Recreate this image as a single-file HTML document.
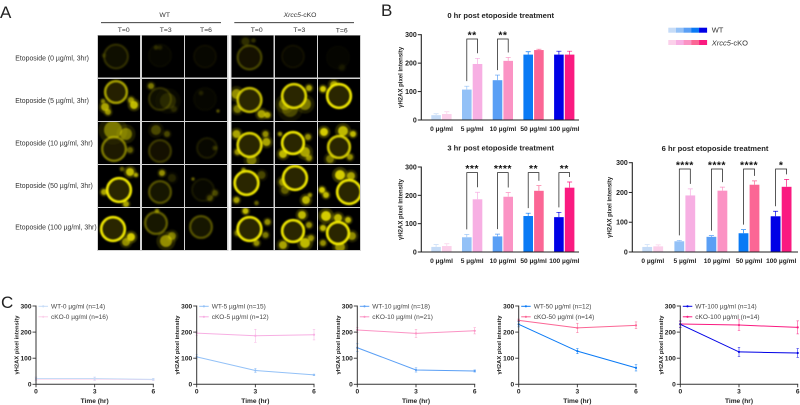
<!DOCTYPE html>
<html>
<head>
<meta charset="utf-8">
<title>Etoposide γH2AX figure</title>
<style>
html,body{margin:0;padding:0;background:#fff;width:800px;height:405px;overflow:hidden}
svg{display:block;filter:blur(.35px)}
text{font-family:"Liberation Sans",sans-serif}
</style>
</head>
<body>
<svg id="fig" xmlns="http://www.w3.org/2000/svg" width="800" height="405" viewBox="0 0 800 405">
  <defs>
    <filter id="soft" x="-20%" y="-20%" width="140%" height="140%"><feGaussianBlur stdDeviation="0.9"/></filter>
  </defs>
  <text x="0" y="18" font-size="17" fill="#222">A</text>
  <text x="381" y="16" font-size="17" fill="#222">B</text>
  <text x="1" y="308" font-size="17" fill="#222">C</text>

  <g font-size="6.8" fill="#333" text-anchor="middle">
    <text x="164.7" y="17">WT</text>
    <text x="300" y="17"><tspan font-style="italic">Xrcc5</tspan>-cKO</text>
    <line x1="101" x2="221" y1="22.7" y2="22.7" stroke="#222" stroke-width=".9"/>
    <line x1="234.3" x2="354" y1="22.7" y2="22.7" stroke="#222" stroke-width=".9"/>
    <text x="123.7" y="31.8">T=0</text>
    <text x="165.7" y="31.8">T=3</text>
    <text x="206" y="31.8">T=6</text>
    <text x="256.7" y="31.8">T=0</text>
    <text x="299.3" y="31.8">T=3</text>
    <text x="341.7" y="32.3">T=6</text>
  </g>
  <g font-size="6.9" fill="#333">
    <text x="15.3" y="60.5">Etoposide (0 µg/ml, 3hr)</text>
    <text x="15.3" y="103">Etoposide (5 µg/ml, 3hr)</text>
    <text x="15.3" y="145.5">Etoposide (10 µg/ml, 3hr)</text>
    <text x="15.3" y="188">Etoposide (50 µg/ml, 3hr)</text>
    <text x="15.3" y="229.7">Etoposide (100 µg/ml, 3hr)</text>
  </g>
  <g id="micrographs"></g>
  <g id="bars"></g>
  <g id="lines"></g>

  <g id="barLegend"></g>
  <text x="711.7" y="32.5" font-size="7.5" fill="#333">WT</text>
  <text x="711.7" y="45.5" font-size="7.5" fill="#333"><tspan font-style="italic">Xrcc5</tspan>-cKO</text>
</svg>
<script>
// ---------- chart data ----------
const doseLabels = ['0 µg/ml', '5 µg/ml', '10 µg/ml', '50 µg/ml', '100 µg/ml'];
const yTicks = [0, 100, 200, 300];
const timeTicks = [0, 3, 6];
const wtColors = ['#c6dcf7', '#93c1f7', '#5a9ff5', '#0a7af5', '#0000e6'];
const koColors = ['#fbd0ea', '#f7afe3', '#fb93c4', '#fb6695', '#fa1a80'];

const wt0hr = [17, 107, 140, 230, 230];
const ko0hr = [21, 197, 208, 246, 230];
const wt0hrErr = [5, 12, 18, 10, 12];
const ko0hrErr = [8, 20, 12, 3, 12];
const sig0hr = ['', '**', '**', '', ''];

const wt3hr = [18, 52, 55, 127, 123];
const ko3hr = [21, 186, 195, 216, 227];
const wt3hrErr = [8, 10, 8, 10, 17];
const ko3hrErr = [8, 25, 15, 18, 20];
const sig3hr = ['', '***', '****', '**', '**'];

const wt6hr = [17, 36, 51, 63, 120];
const ko6hr = [19, 190, 206, 226, 219];
const wt6hrErr = [8, 3, 4, 12, 17];
const ko6hrErr = [5, 22, 12, 13, 25];
const sig6hr = ['', '****', '****', '****', '*'];

const wtDose0 = [22, 22, 19];
const koDose0 = [20, 20, 18];
const wtDose0Err = [6, 6, 4];
const koDose0Err = [6, 6, 4];

const wtDose5 = [105, 53, 36];
const koDose5 = [196, 186, 190];
const wtDose5Err = [8, 8, 3];
const koDose5Err = [8, 25, 20];

const wtDose10 = [140, 55, 51];
const koDose10 = [208, 195, 205];
const wtDose10Err = [15, 8, 4];
const koDose10Err = [10, 15, 12];

const wtDose50 = [230, 127, 63];
const koDose50 = [245, 216, 226];
const wtDose50Err = [10, 10, 12];
const koDose50Err = [5, 18, 13];

const wtDose100 = [230, 124, 120];
const koDose100 = [231, 227, 218];
const wtDose100Err = [12, 17, 17];
const koDose100Err = [12, 20, 25];

// micrograph stand-ins: [ring cx, ring cy, ring r, intensity, [blob x, y, r, intensity]...]
const cellRows = [
  [[18,21,12,.3,[6,20,2,.15]],[18,20,11,.1,[14,12,2,.2],[18,12,2,.15]],[20,21,11,.12],
   [18,22,12,.4,[14,6,4,.2],[22,5,2,.2]],[18,21,11,.14],[20,22,11,.08,[24,32,3,.1]]],
  [[18,13,11,.75,[7,28,4,.7],[36,26,4,.8],[33,21,3,.6],[5,22,2,.5],[10,33,3,.6]],
   [18,20,11,.3,[9,7,3,.5],[26,22,8,.18],[32,30,3,.15]],[20,20,11,.1,[33,32,1.5,.35],[16,14,2,.15]],
   [18,21,12,.85,[5,15,5,.6],[30,35,4,.7],[36,36,3,.7],[6,30,4,.5]],
   [19,17,12,.95,[30,25,6,.5],[10,25,6,.5],[15,30,8,.3],[34,9,3,.7]],
   [21,17,12,1,[5,10,3,.9],[16,6,4,.7]]],
  [[16,27,12,.6,[15,8,9,.5],[28,12,6,.5],[32,28,3,.4]],
   [18,29,11,.35,[14,8,5,.3],[25,12,3,.3]],[22,26,10,.2,[30,26,2,.25]],
   [18,23,12,.95,[5,12,4,.7],[35,20,4,.7],[20,38,5,.5],[34,12,3,.6],[6,30,3,.6]],
   [18,21,11,1,[8,32,4,.8],[30,30,5,.7],[34,36,3,.6],[33,15,3,.6],[5,12,2,.6]],
   [21,25,11,.9,[6,10,4,.9],[25,9,5,.8],[35,12,3,.8],[12,37,4,.5],[32,35,3,.6]]],
  [[21,25,12,1,[32,7,4,.8],[38,10,2,.7],[6,27,3,.7],[28,39,3,.7],[24,4,2,.4]],
   [18,27,11,.45,[20,8,3,.6],[30,13,4,.15]],[18,25,11,.18,[8,14,1.5,.4],[30,28,3,.3],[25,33,3,.3]],
   [15,18,12,1,[5,35,3,.7],[25,38,2,.4],[30,10,4,.3],[12,5,2,.6]],
   [20,13,12,1,[8,17,4,.6],[31,35,4,.8],[35,30,2,.6],[10,25,4,.4]],
   [31,27,12,1,[22,10,5,.9],[33,11,4,.7],[4,25,3,.9],[8,30,3,.8]]],
  [[15,21,12,1,[33,29,4,.9],[28,34,4,.6]],
   [14,15,11,.5,[24,33,6,.6],[30,28,4,.5],[15,3,2,.5]],[16,19,11,.45],
   [18,21,12,1,[14,3,3,.8],[36,14,3,.6],[6,25,3,.5],[34,27,3,.5],[25,35,3,.6]],
   [18,23,11,1,[27,7,4,.8],[34,17,3,.6],[30,35,5,.8],[8,37,4,.7],[36,30,3,.6]],
   [20,25,11,1,[8,8,5,.9],[20,10,4,.8],[30,12,3,.8],[5,20,3,.8],[34,28,4,.6],[22,39,5,.6],[5,35,3,.6]]]
];

// ---------- helpers ----------
const NS = 'http://www.w3.org/2000/svg';
function mk(parent, tag, attrs, txt) {
  const el = document.createElementNS(NS, tag);
  for (const k in attrs) el.setAttribute(k, attrs[k]);
  if (txt !== undefined) el.textContent = txt;
  parent.appendChild(el);
  return el;
}
function label(el, name) {
  
  
  return el;
}

// ---------- micrographs ----------
const colX = [98, 142, 185, 231.5, 275, 318];
const rowY = [35.5, 79, 122, 165, 208];
const CELL = 42;
const micro = document.getElementById('micrographs');
label(mk(micro, 'rect', {x: 97, y: 35, width: 131.5, height: 216, fill: '#d4d4d4'}), 'wt-grid-background');
label(mk(micro, 'rect', {x: 230.5, y: 35, width: 130.5, height: 216, fill: '#d4d4d4'}), 'cko-grid-background');
const defs = document.querySelector('defs');
cellRows.forEach((row, r) => row.forEach((c, col) => {
  const x = colX[col], y = rowY[r];
  const clipId = 'clip' + r + '_' + col;
  const clip = mk(defs, 'clipPath', {id: clipId});
  mk(clip, 'rect', {x: 0, y: 0, width: CELL, height: CELL});
  const g = label(mk(micro, 'g', {transform: 'translate(' + x + ',' + y + ')', 'clip-path': 'url(#' + clipId + ')'}), 'micrograph-cell');
  label(mk(g, 'rect', {x: 0, y: 0, width: CELL, height: CELL, fill: '#000'}), 'cell-background');
  const blur = mk(g, 'g', {filter: 'url(#soft)'});
  const [cx, cy, rad, k] = c;
  const ringK = Math.pow(k, 1.6);
  c.slice(4).forEach(b => {
    const bk = Math.pow(b[3], 1.1);
    label(mk(blur, 'circle', {cx: b[0], cy: b[1], r: b[2] * 1.6, fill: '#c8c000', opacity: bk * .3}), 'foci-halo');
    label(mk(blur, 'circle', {cx: b[0], cy: b[1], r: b[2], fill: '#e8e000', opacity: bk}), 'foci-blob');
  });
  label(mk(blur, 'circle', {cx: cx, cy: cy, r: rad, fill: '#2a2600', opacity: Math.min(1, k * 1.2)}), 'nucleus');
  label(mk(blur, 'circle', {cx: cx, cy: cy, r: rad, fill: 'none', stroke: '#f4ec00', 'stroke-width': 2.3, opacity: ringK}), 'nuclear-ring');
}));

// ---------- bar charts ----------
const barRoot = document.getElementById('bars');
function drawBars(o) {
  const g = mk(barRoot, 'g', {});
  
  
  const yScale = v => o.y0 - v * (o.y0 - o.y300) / 300;
  const xWt = i => o.start + i * o.spacing;
  const xKo = i => xWt(i) + o.offset;

  label(mk(g, 'text', {x: o.titleX, y: o.titleY, 'font-size': 7.6, 'font-weight': 'bold', fill: '#222', 'text-anchor': 'middle'}, o.title), 'chart-title');
  label(mk(g, 'text', {x: 0, y: 0, 'font-size': 6, 'font-weight': 'bold', fill: '#222', 'text-anchor': 'middle',
    transform: 'translate(' + o.yTitleX + ',' + (o.y0 + o.y300) / 2 + ') rotate(-90)'}, 'γH2AX pixel intensity'), 'y-axis-title');

  doseLabels.forEach((lab, i) => {
    [[o.wt, o.wtErr, wtColors, xWt, 'wt'], [o.ko, o.koErr, koColors, xKo, 'ko']].forEach(s => {
      const v = s[0][i], e = s[1][i], col = s[2][i], x = s[3](i);
      const cxm = x + o.barW / 2;
      label(mk(g, 'rect', {x: x, y: yScale(v), width: o.barW, height: o.y0 - yScale(v), fill: col}), 'bar-' + s[4] + '-' + i);
      label(mk(g, 'path', {d: 'M' + cxm + ' ' + yScale(v) + 'V' + yScale(v + e) + 'M' + (cxm - 2.5) + ' ' + yScale(v + e) + 'H' + (cxm + 2.5),
        stroke: col, 'stroke-width': .7, fill: 'none'}), 'error-bar-' + s[4] + '-' + i);
    });
    label(mk(g, 'text', {x: xKo(i) - 0.5, y: o.y0 + 11, 'font-size': 6.6, 'font-weight': 'bold', fill: '#222', 'text-anchor': 'middle'}, lab), 'x-tick-label');
    const sig = o.sig[i];
    if (sig) {
      const lx = xWt(i) + o.barW / 2, rx = xKo(i) + o.barW / 2;
      const top = yScale(o.bracketTop);
      const lb = yScale(o.wt[i] + o.wtErr[i]) - 5;
      const rb = yScale(o.ko[i] + o.koErr[i]) - 5;
      label(mk(g, 'path', {d: 'M' + lx + ' ' + lb + 'V' + top + 'H' + rx + 'V' + rb, stroke: '#222', 'stroke-width': .75, fill: 'none'}), 'significance-bracket');
      label(mk(g, 'text', {x: (lx + rx) / 2, y: top - 0.6, 'font-size': 10.5, 'font-weight': 'bold', fill: '#111', 'text-anchor': 'middle', 'letter-spacing': '.4'}, sig), 'significance-stars');
    }
  });

  label(mk(g, 'line', {x1: o.x0, x2: o.xEnd, y1: o.y0, y2: o.y0, stroke: '#222', 'stroke-width': 1.1}), 'x-axis');
  label(mk(g, 'line', {x1: o.x0, x2: o.x0, y1: o.y300 - .5, y2: o.y0 + .5, stroke: '#222', 'stroke-width': 1.1}), 'y-axis');
  yTicks.forEach(t => {
    label(mk(g, 'line', {x1: o.x0 - 3.5, x2: o.x0, y1: yScale(t), y2: yScale(t), stroke: '#222', 'stroke-width': 1}), 'y-tick');
    label(mk(g, 'text', {x: o.x0 - 4.5, y: yScale(t) + 2.5, 'font-size': 7, 'font-weight': 'bold', fill: '#222', 'text-anchor': 'end'}, t), 'y-tick-label');
  });
}
drawBars({name: 'chart-0hr', title: '0 hr post etoposide treatment', titleX: 500.7, titleY: 18, yTitleX: 402.5,
  x0: 421.3, xEnd: 579, y0: 120, y300: 34.7, start: 431.3, spacing: 30.7, barW: 9.6, offset: 10.7, bracketTop: 285,
  wt: wt0hr, ko: ko0hr, wtErr: wt0hrErr, koErr: ko0hrErr, sig: sig0hr});
drawBars({name: 'chart-3hr', title: '3 hr post etoposide treatment', titleX: 500.7, titleY: 150.5, yTitleX: 402.5,
  x0: 421.3, xEnd: 579, y0: 252, y300: 167, start: 431.3, spacing: 30.7, barW: 9.6, offset: 10.7, bracketTop: 280,
  wt: wt3hr, ko: ko3hr, wtErr: wt3hrErr, koErr: ko3hrErr, sig: sig3hr});
drawBars({name: 'chart-6hr', title: '6 hr post etoposide treatment', titleX: 715, titleY: 151, yTitleX: 611.5,
  x0: 632.3, xEnd: 798, y0: 252, y300: 162.7, start: 642.3, spacing: 32.1, barW: 9.8, offset: 11, bracketTop: 279,
  wt: wt6hr, ko: ko6hr, wtErr: wt6hrErr, koErr: ko6hrErr, sig: sig6hr});

// ---------- bar legend ----------
const barLegend = document.getElementById('barLegend');
[[wtColors, 27.7, 'legend-wt-swatch'], [koColors, 40, 'legend-cko-swatch']].forEach(s => {
  s[0].forEach((col, i) => {
    label(mk(barLegend, 'rect', {x: 668.3 + i * 7.7, y: s[1], width: 8, height: 5, fill: col}), s[2]);
  });
});

// ---------- line charts ----------
const lineRoot = document.getElementById('lines');
function drawLines(o) {
  const g = mk(lineRoot, 'g', {});
  
  
  const y0 = 384.3, y300 = 306;
  const yScale = v => y0 - v * (y0 - y300) / 300;
  const xScale = t => o.x0 + t * (o.x6 - o.x0) / 6;
  const axis = '#333';

  label(mk(g, 'text', {x: 0, y: 0, 'font-size': 5.8, 'font-weight': 'bold', fill: '#222', 'text-anchor': 'middle',
    transform: 'translate(' + (o.x0 - 17.5) + ',345) rotate(-90)'}, 'γH2AX pixel intensity'), 'y-axis-title');
  label(mk(g, 'text', {x: (o.x0 + o.x6) / 2, y: 403, 'font-size': 6.6, 'font-weight': 'bold', fill: '#222', 'text-anchor': 'middle'}, 'Time (hr)'), 'x-axis-title');

  [[o.ko, o.koErr, o.koColor, 'cko'], [o.wt, o.wtErr, o.wtColor, 'wt']].forEach(s => {
    const pts = timeTicks.map((t, i) => xScale(t) + ',' + yScale(s[0][i])).join(' ');
    label(mk(g, 'polyline', {points: pts, fill: 'none', stroke: s[2], 'stroke-width': 1}), 'line-' + s[3]);
    timeTicks.forEach((t, i) => {
      const x = xScale(t), v = s[0][i], e = s[1][i];
      label(mk(g, 'path', {d: 'M' + x + ' ' + yScale(v - e) + 'V' + yScale(v + e) + 'M' + (x - 1.2) + ' ' + yScale(v + e) + 'H' + (x + 1.2) + 'M' + (x - 1.2) + ' ' + yScale(v - e) + 'H' + (x + 1.2),
        stroke: s[2], 'stroke-width': .5, fill: 'none'}), 'error-bar-' + s[3]);
      label(mk(g, 'circle', {cx: x, cy: yScale(v), r: 1.1, fill: s[2]}), 'point-' + s[3]);
    });
  });

  label(mk(g, 'line', {x1: o.x0, x2: o.x6 + .5, y1: y0, y2: y0, stroke: axis, 'stroke-width': 1}), 'x-axis');
  label(mk(g, 'line', {x1: o.x0, x2: o.x0, y1: y300 - .5, y2: y0 + .5, stroke: axis, 'stroke-width': 1}), 'y-axis');
  yTicks.forEach(t => {
    label(mk(g, 'line', {x1: o.x0 - 3.5, x2: o.x0, y1: yScale(t), y2: yScale(t), stroke: axis, 'stroke-width': .9}), 'y-tick');
    label(mk(g, 'text', {x: o.x0 - 4.5, y: yScale(t) + 2.4, 'font-size': 6.6, 'font-weight': 'bold', fill: '#222', 'text-anchor': 'end'}, t), 'y-tick-label');
  });
  timeTicks.forEach(t => {
    label(mk(g, 'line', {x1: xScale(t), x2: xScale(t), y1: y0, y2: y0 + 3, stroke: axis, 'stroke-width': .9}), 'x-tick');
    label(mk(g, 'text', {x: xScale(t), y: y0 + 9, 'font-size': 6.6, 'font-weight': 'bold', fill: '#222', 'text-anchor': 'middle'}, t), 'x-tick-label');
  });

  [[o.wtLabel, 306.3, o.wtColor, 'wt'], [o.koLabel, 316.8, o.koColor, 'cko']].forEach(s => {
    label(mk(g, 'line', {x1: o.x0 + 2.5, x2: o.x0 + 12, y1: s[1], y2: s[1], stroke: s[2], 'stroke-width': 1}), 'legend-line-' + s[3]);
    label(mk(g, 'circle', {cx: o.x0 + 7.2, cy: s[1], r: 1.1, fill: s[2]}), 'legend-marker-' + s[3]);
    label(mk(g, 'text', {x: o.x0 + 15, y: s[1] + 2.2, 'font-size': 6.5, fill: '#444'}, s[0]), 'legend-label-' + s[3]);
  });
}
drawLines({name: 'line-chart-0', x0: 36, x6: 153.3, wt: wtDose0, ko: koDose0, wtErr: wtDose0Err, koErr: koDose0Err,
  wtColor: wtColors[0], koColor: koColors[0], wtLabel: 'WT-0 µg/ml (n=14)', koLabel: 'cKO-0 µg/ml (n=16)'});
drawLines({name: 'line-chart-5', x0: 196.7, x6: 314, wt: wtDose5, ko: koDose5, wtErr: wtDose5Err, koErr: koDose5Err,
  wtColor: wtColors[1], koColor: koColors[1], wtLabel: 'WT-5 µg/ml (n=15)', koLabel: 'cKO-5 µg/ml (n=12)'});
drawLines({name: 'line-chart-10', x0: 357.3, x6: 474.7, wt: wtDose10, ko: koDose10, wtErr: wtDose10Err, koErr: koDose10Err,
  wtColor: wtColors[2], koColor: koColors[2], wtLabel: 'WT-10 µg/ml (n=18)', koLabel: 'cKO-10 µg/ml (n=21)'});
drawLines({name: 'line-chart-50', x0: 518.7, x6: 636, wt: wtDose50, ko: koDose50, wtErr: wtDose50Err, koErr: koDose50Err,
  wtColor: wtColors[3], koColor: koColors[3], wtLabel: 'WT-50 µg/ml (n=12)', koLabel: 'cKO-50 µg/ml (n=14)'});
drawLines({name: 'line-chart-100', x0: 680.3, x6: 797.7, wt: wtDose100, ko: koDose100, wtErr: wtDose100Err, koErr: koDose100Err,
  wtColor: wtColors[4], koColor: koColors[4], wtLabel: 'WT-100 µg/ml (n=14)', koLabel: 'cKO-100 µg/ml (n=14)'});
</script>
</body>
</html>
